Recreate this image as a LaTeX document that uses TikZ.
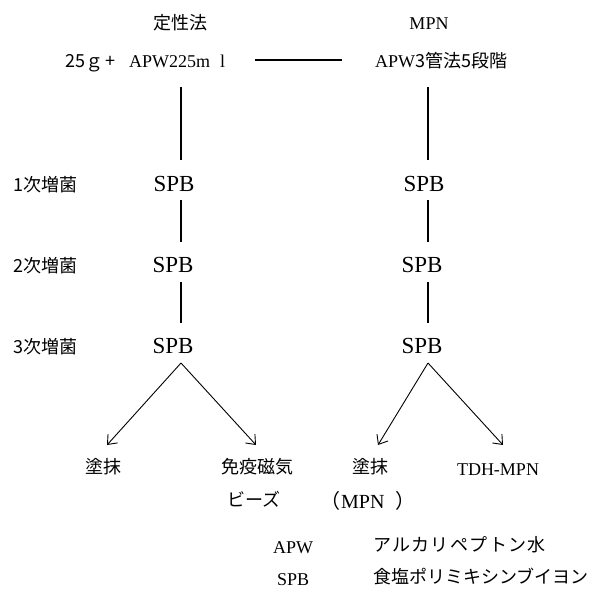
\documentclass[tikz,border=0pt]{standalone}
\usepackage{fontspec}
\setmainfont{Liberation Serif}
\newfontfamily\jp{Noto Sans CJK JP}
\newfontfamily\jpwide[LetterSpace=8]{Noto Sans CJK JP}
\usetikzlibrary{arrows.meta}
\begin{document}
\begin{tikzpicture}[x=1pt,y=-1pt,
  txt/.style={inner sep=0pt,anchor=base,font=\fontsize{18}{20}\selectfont},
  jtxt/.style={txt,font=\fontsize{18}{20}\selectfont\jp},
  big/.style={inner sep=0pt,anchor=base,font=\fontsize{23}{26}\selectfont},
  link/.style={line width=1.4pt},
  arr/.style={line width=0.9pt,-{Straight Barb[length=8pt,width=13pt]}}]
\useasboundingbox (0,0) rectangle (599,599);
% headers
\node[jtxt] (h1) at (180,30) {定性法};
\node[txt] (h2) at (429,30) {MPN};
\node[txt,anchor=base west] (r1) at (65,68) {{\jp 25ｇ\hspace{2pt}+}\hspace{14pt}APW225m\hspace{10pt}l};
\node[txt,anchor=base west] (r2) at (375,68) {APW{\jp 3管法5段階}};
\coordinate (hl1) at (255,60);
\coordinate (hl2) at (342,60);
\draw[link] (hl1) -- (hl2);
% row labels
\node[jtxt,anchor=base west] (l1) at (13,191) {1次増菌};
\node[jtxt,anchor=base west] (l2) at (13,272) {2次増菌};
\node[jtxt,anchor=base west] (l3) at (13,353) {3次増菌};
% SPB nodes
\node[big] (a1) at (174,191) {SPB};
\node[big] (a2) at (173,272) {SPB};
\node[big] (a3) at (173,353) {SPB};
\node[big] (b1) at (424,191) {SPB};
\node[big] (b2) at (422,272) {SPB};
\node[big] (b3) at (422,353) {SPB};
% vertical lines
\coordinate (la0) at (181,87);  \coordinate (la1) at (181,160);
\coordinate (la2) at (181,200); \coordinate (la3) at (181,242);
\coordinate (la4) at (181,282); \coordinate (la5) at (181,323);
\coordinate (lb0) at (428,87);  \coordinate (lb1) at (428,160);
\coordinate (lb2) at (428,200); \coordinate (lb3) at (428,242);
\coordinate (lb4) at (428,282); \coordinate (lb5) at (428,323);
\draw[link] (la0) -- (la1);
\draw[link] (la2) -- (la3);
\draw[link] (la4) -- (la5);
\draw[link] (lb0) -- (lb1);
\draw[link] (lb2) -- (lb3);
\draw[link] (lb4) -- (lb5);
% arrows
\coordinate (sa) at (181,363);
\coordinate (sb) at (428,363);
\coordinate (ea1) at (107,445);
\coordinate (ea2) at (256,445);
\coordinate (eb1) at (378,445);
\coordinate (eb2) at (503,445);
\draw[arr] (sa) -- (ea1);
\draw[arr] (sa) -- (ea2);
\draw[arr] (sb) -- (eb1);
\draw[arr] (sb) -- (eb2);
% bottom labels
\node[jtxt] (c1) at (103.5,473) {塗抹};
\node[jtxt] (c2) at (257,473) {免疫磁気};
\node[jtxt] (c3) at (370,473) {塗抹};
\node[txt] (c4) at (498,475) {TDH-MPN};
\node[jtxt,anchor=base west] (d1) at (227,506) {ビーズ};
\node[txt,anchor=base west,font=\fontsize{20}{22}\selectfont] (d2) at (320,508) {{\jp （}\hspace{1pt}MPN\hspace{11pt}{\jp ）}};
% legend
\node[txt,anchor=base west] (k1) at (273,553) {APW};
\node[txt,anchor=base west,font=\fontsize{18}{20}\selectfont\jpwide] (v1) at (373,551) {アルカリペプトン水};
\node[txt,anchor=base west] (k2) at (277,585) {SPB};
\node[jtxt,anchor=base west] (v2) at (373,583) {食塩ポリミキシンブイヨン};
\end{tikzpicture}
\end{document}
